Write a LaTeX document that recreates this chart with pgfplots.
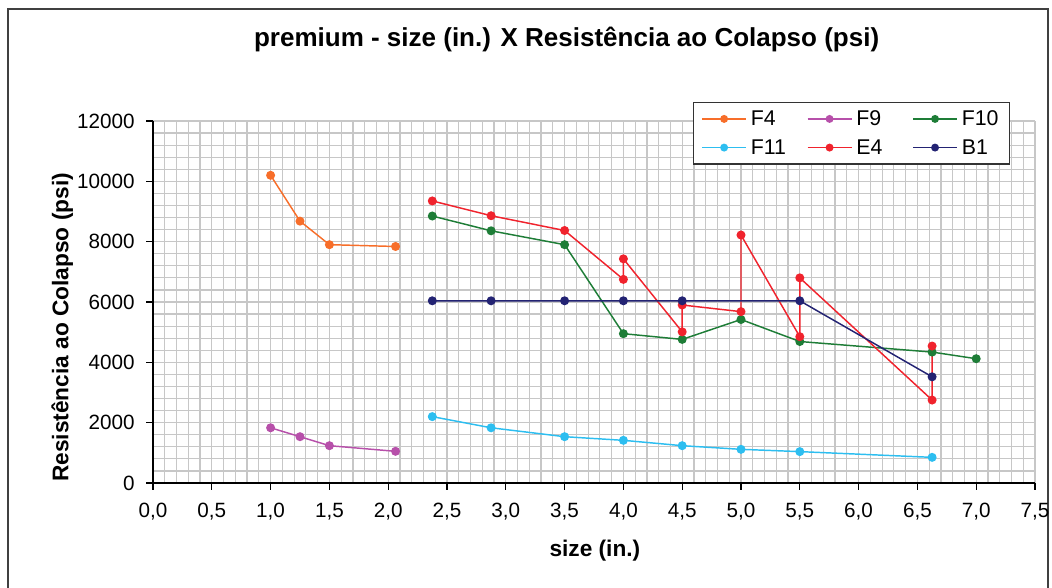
\documentclass[border=0pt]{standalone}
\usepackage{pgfplots}
\pgfplotsset{compat=1.18}
\usepackage{fontspec}
\setmainfont{Liberation Sans}
\definecolor{cF4}{RGB}{247,110,42}
\definecolor{cF9}{RGB}{183,80,170}
\definecolor{cF10}{RGB}{30,125,55}
\definecolor{cF11}{RGB}{45,190,240}
\definecolor{cE4}{RGB}{240,35,45}
\definecolor{cB1}{RGB}{35,35,115}
\begin{document}
\begin{tikzpicture}
\path[use as bounding box] (0pt,0pt) rectangle (789pt,441pt);
\draw[line width=1.1pt,black!75] (6pt,-8pt) -- (6pt,434.25pt) -- (786pt,434.25pt) -- (786pt,-8pt);
\begin{axis}[
  at={(114.75pt,78.75pt)}, anchor=south west,
  scale only axis, width=661.5pt, height=271.5pt,
  xmin=0, xmax=7.5, ymin=0, ymax=12000,
  xtick={0,0.5,...,7.5}, ytick={0,2000,...,12000},
  scaled x ticks=false, scaled y ticks=false,
  minor x tick num=4, minor y tick num=4,
  grid=both,
  major grid style={line width=0.9pt, color=black!22},
  minor grid style={line width=0.9pt, color=black!22},
  axis x line*=bottom, axis y line*=left,
  axis line style={line width=1pt, black},
  tick align=outside, major tick length=5.25pt, minor tick length=0pt,
  tick style={line width=1pt, black},
  xtick pos=bottom, ytick pos=left,
  /pgf/number format/assume math mode=true,
  xticklabel style={yshift=-6.5pt, /pgf/number format/use comma, /pgf/number format/fixed, /pgf/number format/fixed zerofill, /pgf/number format/precision=1},
  yticklabel style={xshift=-5pt, /pgf/number format/fixed, /pgf/number format/precision=0, /pgf/number format/1000 sep={}},
  ticklabel style={font=\fontsize{15.5}{18}\selectfont},
  xlabel={size (in.)},
  ylabel={Resistência ao Colapso (psi)},
  xlabel style={font=\bfseries\fontsize{17}{20}\selectfont, at={(axis description cs:0.501,-0.188)}, anchor=center},
  ylabel style={font=\bfseries\fontsize{17}{20}\selectfont, at={(axis description cs:-0.103,0.43)}, anchor=center},
  title={premium - size (in.) X Resistência ao Colapso (psi)},
  title style={font=\bfseries\fontsize{19.5}{23}\selectfont, at={(axis description cs:0.469,1.204)}, anchor=center},
  legend columns=3,
  legend cell align=left,
  legend style={at={(axis description cs:0.612,1.0525)}, anchor=north west,
    draw=black!80, line width=0.9pt, fill=white,
    font=\fontsize{16}{19}\selectfont,
    nodes={inner xsep=3pt, inner ysep=2pt},
    /tikz/every even column/.append style={column sep=12pt, text width=27pt, text height=12pt, text depth=3pt},
    /tikz/every odd column/.append style={column sep=0pt},
    inner xsep=6pt, inner ysep=3.5pt, row sep=4pt},
  legend image code/.code={\draw[mark repeat=2,mark phase=2,#1,mark size=2.4pt] plot coordinates {(0pt,0pt) (16.5pt,0pt) (33pt,0pt)};},
  every axis plot/.append style={line width=1.1pt, mark=*, mark size=2.8pt},
]
\addplot[color=cF4, mark options={fill=cF4}] coordinates {(1.0,10200) (1.25,8680) (1.5,7900) (2.0625,7840)};
\addlegendentry{F4}
\addplot[color=cF9, mark options={fill=cF9}] coordinates {(1.0,1830) (1.25,1535) (1.5,1237) (2.0625,1050)};
\addlegendentry{F9}
\addplot[color=cF10, mark options={fill=cF10}] coordinates {(2.375,8850) (2.875,8360) (3.5,7900) (4.0,4950) (4.5,4760) (5.0,5420) (5.5,4690) (6.625,4340) (7.0,4120)};
\addlegendentry{F10}
\addplot[color=cF11, mark options={fill=cF11}] coordinates {(2.375,2200) (2.875,1830) (3.5,1535) (4.0,1414) (4.5,1237) (5.0,1116) (5.5,1040) (6.625,850)};
\addlegendentry{F11}
\addplot[color=cE4, mark options={fill=cE4}] coordinates {(2.375,9350) (2.875,8860) (3.5,8370) (4.0,6750) (4.0,7430) (4.5,5010) (4.5,5900) (5.0,5680) (5.0,8220) (5.5,4850) (5.5,6800) (6.625,2750) (6.625,4540)};
\addlegendentry{E4}
\addplot[color=cB1, mark options={fill=cB1}] coordinates {(2.375,6040) (2.875,6040) (3.5,6040) (4.0,6040) (4.5,6040) (5.5,6040) (6.625,3520)};
\addlegendentry{B1}
\end{axis}
\end{tikzpicture}
\end{document}
